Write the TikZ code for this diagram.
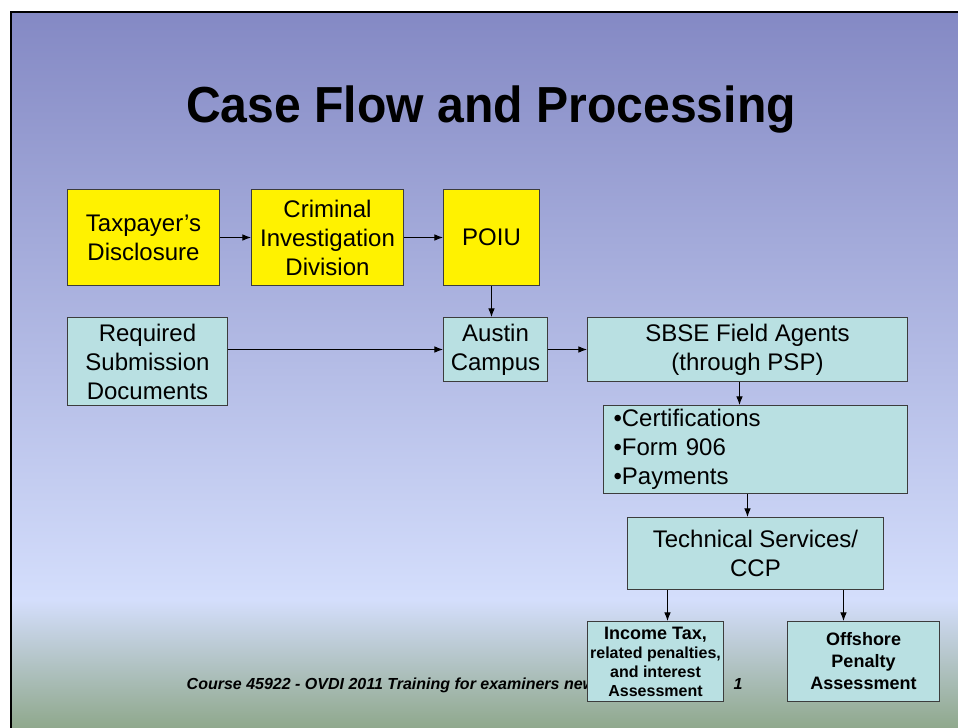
\documentclass[tikz,border=0pt]{standalone}
\usepackage{fontspec}
\setmainfont{Liberation Sans}
\newfontfamily\titlefont[FakeStretch=0.95]{Liberation Sans}
\usetikzlibrary{arrows.meta}
\definecolor{slidetop}{RGB}{132,137,196}
\definecolor{slidemid}{RGB}{190,198,240}
\definecolor{slidelow}{RGB}{212,222,252}
\definecolor{slidebot}{RGB}{143,168,140}
\definecolor{tealbox}{RGB}{185,224,226}
\definecolor{boxline}{RGB}{60,60,60}
\tikzset{
    >={Latex[length=6.5pt,width=5pt]},
    box/.style={draw=boxline, fill=tealbox, line width=0.75pt, anchor=north west,
        inner sep=0pt, align=center, font=\fontsize{18}{21.7}\selectfont},
    ybox/.style={box, fill=yellow},
    wh/.style 2 args={minimum width=#1*0.75pt, minimum height=#2*0.75pt},
    arr/.style={->, line width=0.75pt},
}

\begin{document}
\begin{tikzpicture}[x=0.75pt, y=-0.75pt]
        \useasboundingbox (0,0) rectangle (958,728);
        \fill[white] (0,0) rectangle (958,728);
        % slide background
        \shade[top color=slidetop, middle color=slidemid, bottom color=slidelow] (11,12) rectangle (958,600);
        \shade[top color=slidelow, bottom color=slidebot] (11,600) rectangle (958,728);
        \draw[line width=1.6pt] (958,12) -- (11,12) -- (11,728);

        \node[anchor=base, font=\titlefont\fontsize{38}{46}\bfseries] (title) at (491,122) {Case Flow and Processing};
        \node[anchor=base west, font=\fontsize{12}{14}\bfseries\itshape] (course) at (182,689)
            {Course 45922 - OVDI 2011 Training for examiners new};
        \node[anchor=base west, font=\fontsize{12}{14}\bfseries\itshape] (page) at (729,689) {1};

        % boxes
        \node[ybox, wh={152}{96}] (tax) at (67,189) {Taxpayer’s\\Disclosure};
        \node[ybox, wh={152}{96}] (cid) at (251,189) {Criminal\\Investigation\\Division};
        \node[ybox, wh={96}{96}] (poiu) at (443,189) {POIU};
        \node[box, wh={160}{88}] (req) at (67,317) {Required\\Submission\\Documents};
        \node[box, wh={104}{64}] (austin) at (443,317) {Austin\\Campus};
        \node[box, wh={320}{64}] (sbse) at (587,317) {SBSE Field Agents\\(through PSP)};
        \node[box, wh={304}{88}, align=left, text width=284*0.75pt, inner xsep=10*0.75pt] (cert) at (603,405)
            {•Certifications\\•Form 906\\•Payments};
        \node[box, wh={256}{72}] (tech) at (627,517) {Technical Services/\\CCP};
        \node[box, wh={136}{80}, font=\fontsize{12}{14.2}\bfseries] (income) at (587,621)
            {{\fontsize{13.5}{15.5}\selectfont Income Tax,}\\related penalties,\\and interest\\Assessment};
        \node[box, wh={152}{80}, font=\fontsize{13.5}{16.5}\bfseries] (offshore) at (787,621)
            {Offshore\\Penalty\\Assessment};

        % connectors
        \draw[arr] (tax) -- (cid);
        \draw[arr] (cid) -- (poiu);
        \draw[arr] (poiu.south) -- (poiu.south |- austin.north);
        \draw[arr] (req.east |- austin.west) -- (austin.west);
        \draw[arr] (austin) -- (sbse);
        \draw[arr] ([xshift=-6pt]sbse.south) -- ([xshift=-6pt]sbse.south |- cert.north);
        \draw[arr] ([xshift=-6pt]cert.south) -- ([xshift=-6pt]cert.south |- tech.north);
        \draw[arr] ([xshift=9pt]income.north |- tech.south) -- ([xshift=9pt]income.north);
        \draw[arr] ([xshift=-15pt]offshore.north |- tech.south) -- ([xshift=-15pt]offshore.north);
    \end{tikzpicture}
\end{document}
